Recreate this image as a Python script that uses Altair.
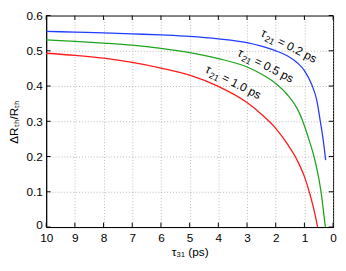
import altair as alt
import pandas as pd

# --- data ---
tau31_b = [10, 9, 8, 7, 6, 5, 4, 3, 2.5, 2, 1.6, 1.25, 1.0, 0.75, 0.57, 0.45, 0.34, 0.26]
dr_b = [0.555, 0.553, 0.551, 0.548, 0.545, 0.541, 0.534, 0.523, 0.513, 0.500, 0.486, 0.466, 0.444, 0.405, 0.360, 0.302, 0.244, 0.190]

tau31_g = [10, 9, 8, 7, 6, 5, 4, 3, 2.5, 2, 1.6, 1.25, 1.08, 0.85, 0.66, 0.51, 0.40, 0.32, 0.27]
dr_g = [0.531, 0.527, 0.522, 0.516, 0.507, 0.495, 0.478, 0.454, 0.434, 0.407, 0.376, 0.336, 0.305, 0.250, 0.198, 0.143, 0.088, 0.034, 0.0]

tau31_r = [10, 9, 8, 7, 6, 5, 4, 3, 2.5, 2.0, 1.59, 1.25, 1.0, 0.8, 0.63, 0.54]
dr_r = [0.493, 0.487, 0.479, 0.467, 0.451, 0.431, 0.399, 0.353, 0.320, 0.280, 0.235, 0.189, 0.143, 0.091, 0.036, 0.0]

series = ["τ21 = 0.2 ps", "τ21 = 0.5 ps", "τ21 = 1.0 ps"]
label_sym = ["τ", "τ", "τ"]
label_sub = ["21", "21", "21"]
label_rest = ["= 0.2 ps", "= 0.5 ps", "= 1.0 ps"]
colors = ["#1f3cff", "#1ea51e", "#ff1a1a"]

label_x = [1.54, 2.35, 3.48]
label_y = [0.514, 0.458, 0.411]

x_ticks = list(range(0, 11))
y_ticks = [0, 0.1, 0.2, 0.3, 0.4, 0.5, 0.6]

rows = []
for name, xs, ys in zip(series, [tau31_b, tau31_g, tau31_r], [dr_b, dr_g, dr_r]):
    for a, b in zip(xs, ys):
        rows.append({"tau31": a, "dr": b, "s": name})
df = pd.DataFrame(rows)
lab = pd.DataFrame({"tau31": label_x, "dr": label_y, "sym": label_sym,
                    "sub": label_sub, "rest": label_rest})
xt = pd.DataFrame({"tau31": x_ticks})
yt = pd.DataFrame({"dr": y_ticks})

W, H = 293, 216
FONT = "Liberation Sans"

xscale = alt.Scale(domain=[10, 0], nice=False, zero=False)
yscale = alt.Scale(domain=[0, 0.6], nice=False)
cscale = alt.Scale(domain=series, range=colors)

xaxis = alt.Axis(values=x_ticks, title="τ₃₁ (ps)", grid=True, tickSize=0,
                 labelPadding=6, titlePadding=3, format="d",
                 labelFlush=False, labelBound=False, labelOverlap=False)
yaxis = alt.Axis(values=y_ticks, title="ΔRₜₕ/Rₜₕ", grid=True, tickSize=0,
                 labelPadding=4, titlePadding=6, labelOverlap=False,
                 labelOffset={"condition": {"test": "datum.value == 0", "value": -3}, "value": 0},
                 labelExpr="datum.value == 0 ? '0' : format(datum.value, '.1f')")

X = alt.X("tau31:Q", scale=xscale, axis=xaxis, title="τ₃₁ (ps)")
Y = alt.Y("dr:Q", scale=yscale, axis=yaxis, title="ΔRₜₕ/Rₜₕ")

lines = alt.Chart(df).mark_line(strokeWidth=1.3, interpolate="monotone").encode(
    x=X, y=Y,
    color=alt.Color("s:N", scale=cscale, legend=None),
    detail="s:N",
)

ANG = 27
txt = dict(angle=ANG, font=FONT, color="black", align="left", baseline="middle")
lab_sym = alt.Chart(lab).mark_text(fontSize=12, dx=-31, **txt).encode(x=X, y=Y, text="sym:N")
lab_sub = alt.Chart(lab).mark_text(fontSize=9, dx=-25, dy=4, **txt).encode(x=X, y=Y, text="sub:N")
lab_rest = alt.Chart(lab).mark_text(fontSize=12, dx=-12, **txt).encode(x=X, y=Y, text="rest:N")

tick_style = dict(color="black", strokeWidth=1)
xt_bottom = alt.Chart(xt).mark_rule(**tick_style).encode(
    x=X, y=alt.value(H), y2=alt.value(H - 4.5))
xt_top = alt.Chart(xt).mark_rule(**tick_style).encode(
    x=X, y=alt.value(0), y2=alt.value(4.5))
yt_left = alt.Chart(yt).mark_rule(**tick_style).encode(
    y=Y, x=alt.value(0), x2=alt.value(4.5))
yt_right = alt.Chart(yt).mark_rule(**tick_style).encode(
    y=Y, x=alt.value(W), x2=alt.value(W - 4.5))

chart = alt.layer(lines, lab_sym, lab_sub, lab_rest,
                  xt_bottom, xt_top, yt_left, yt_right).properties(
    width=W, height=H,
    padding={"left": 39, "top": 5, "right": 5, "bottom": 33},
    autosize=alt.AutoSizeParams(type="none"),
).configure_view(stroke="black", strokeWidth=1).configure_axis(
    domainColor="black", domainWidth=1,
    gridColor="#9a9a9a", gridDash=[1, 2], gridWidth=0.7,
    labelFont=FONT, labelFontSize=12, labelColor="black",
    titleFont=FONT, titleFontSize=12, titleColor="black", titleFontWeight="normal",
)

chart.save("out.html", embed_options={"renderer": "svg", "actions": False})
